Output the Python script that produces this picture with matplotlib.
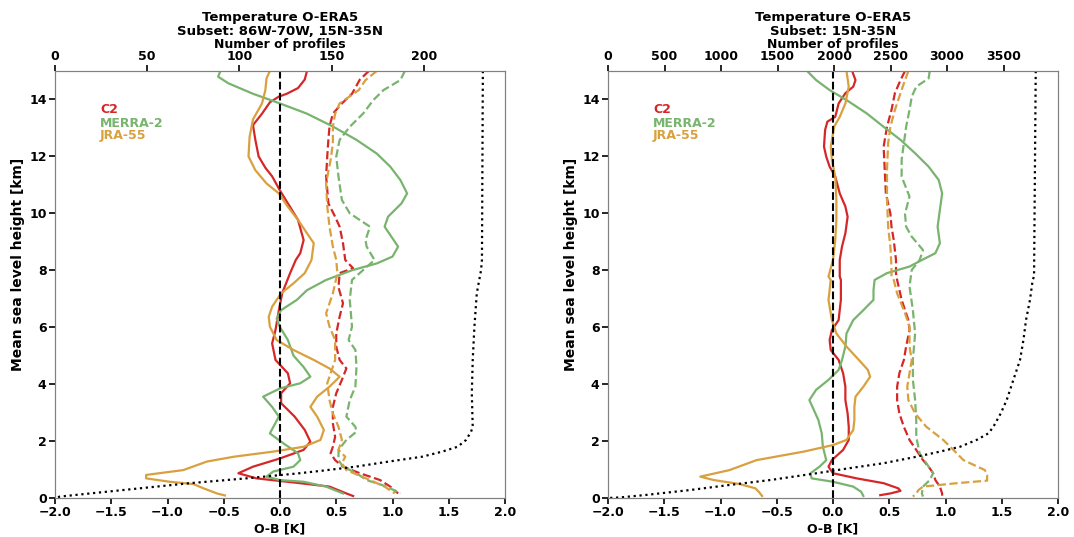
import numpy as np
import matplotlib
matplotlib.use('Agg')
import matplotlib.pyplot as plt

# colours
red = '#d62728'
green = '#78b46e'
orange = '#d9a03f'

# ---------------- left panel: 86W-70W, 15N-35N ----------------
c2_L_h = [15.0, 14.7, 14.4, 14.2, 14.1, 13.9, 13.5, 13.1, 12.6, 12.0, 11.6, 11.3, 10.8, 10.35,
          9.77, 9.06, 8.6, 8.36, 7.9, 7.2, 6.6, 5.9, 5.43, 4.85, 4.38, 4.03, 3.68, 3.33, 2.86,
          2.39, 1.98, 1.69, 1.39, 1.1, 0.87, 0.69, 0.52, 0.4, 0.16, 0.07]
c2_L_ob = [0.24, 0.22, 0.16, 0.06, -0.01, -0.09, -0.16, -0.24, -0.22, -0.19, -0.13, -0.07, 0.0, 0.07,
           0.16, 0.21, 0.18, 0.14, 0.09, 0.02, -0.01, -0.04, -0.07, -0.04, 0.07, 0.09, 0.01, 0.01, 0.13,
           0.22, 0.27, 0.21, 0.0, -0.24, -0.37, -0.21, 0.18, 0.44, 0.59, 0.65]
c2_L_sd_h = [15.0, 14.7, 14.2, 13.86, 13.5, 13.05, 12.58, 12.0, 11.3, 10.35, 9.88, 9.53, 8.95, 8.36,
             8.07, 7.9, 7.4, 6.84, 6.37, 5.78, 5.32, 4.85, 4.55, 4.15, 3.68, 3.2, 2.62, 2.15, 1.8,
             1.57, 1.33, 1.1, 0.87, 0.63, 0.4, 0.16]
c2_L_sd = [0.79, 0.71, 0.64, 0.55, 0.47, 0.44, 0.43, 0.42, 0.41, 0.43, 0.49, 0.53, 0.56, 0.58,
           0.65, 0.53, 0.52, 0.56, 0.53, 0.5, 0.5, 0.53, 0.59, 0.55, 0.5, 0.47, 0.47, 0.49, 0.47,
           0.45, 0.49, 0.56, 0.71, 0.89, 0.98, 1.05]

merra_L_h = [15.0, 14.8, 14.57, 14.2, 13.86, 13.5, 13.05, 12.58, 12.1, 11.64, 11.17, 10.7, 10.35,
             9.88, 9.53, 9.18, 8.83, 8.48, 8.24, 8.0, 7.66, 7.3, 6.96, 6.6, 6.3, 6.0, 5.55, 5.0,
             4.6, 4.26, 4.03, 3.85, 3.56, 3.2, 2.86, 2.27, 1.92, 1.57, 1.33, 1.1, 0.93, 0.75, 0.63,
             0.57, 0.4, 0.16]
merra_L_ob = [-0.53, -0.55, -0.46, -0.24, 0.0, 0.24, 0.47, 0.68, 0.86, 0.98, 1.07, 1.13, 1.08,
              0.96, 0.93, 0.99, 1.05, 1.0, 0.86, 0.64, 0.41, 0.24, 0.15, 0.01, -0.03, 0.0, 0.07, 0.12,
              0.21, 0.27, 0.18, 0.0, -0.15, -0.07, -0.01, -0.09, 0.03, 0.16, 0.18, 0.12, -0.06, -0.12, 0.0,
              0.21, 0.41, 0.56]
merra_L_sd_h = [15.0, 14.68, 14.33, 13.98, 13.51, 13.04, 12.58, 11.99, 11.29, 10.47, 10.0, 9.53, 9.06,
                8.83, 8.36, 8.01, 7.66, 6.96, 6.02, 5.55, 5.2, 4.62, 3.91, 3.44, 2.86, 2.5, 2.33, 2.04,
                1.69, 1.33, 1.1, 0.87, 0.63, 0.4, 0.16]
merra_L_sd = [1.11, 1.07, 0.92, 0.83, 0.74, 0.62, 0.53, 0.5, 0.52, 0.55, 0.62, 0.8, 0.76,
              0.77, 0.84, 0.74, 0.64, 0.62, 0.64, 0.61, 0.67, 0.68, 0.67, 0.62, 0.59, 0.67, 0.68, 0.59,
              0.52, 0.52, 0.56, 0.68, 0.77, 0.95, 1.07]

jra_L_h = [15.0, 14.74, 14.33, 13.86, 13.3, 12.69, 12.0, 11.52, 11.05, 10.7, 10.23, 9.77, 9.3, 8.95,
           8.36, 7.9, 7.54, 7.19, 6.72, 6.37, 6.02, 5.55, 5.2, 4.85, 4.55, 4.26, 3.91, 3.56, 3.2,
           2.86, 2.39, 2.04, 1.8, 1.63, 1.45, 1.28, 0.98, 0.81, 0.69, 0.57, 0.49, 0.34, 0.16, 0.09]
jra_L_ob = [-0.09, -0.12, -0.13, -0.16, -0.24, -0.27, -0.28, -0.22, -0.12, -0.01, 0.07, 0.16, 0.24, 0.3,
            0.28, 0.22, 0.12, 0.01, -0.07, -0.1, -0.09, -0.03, 0.12, 0.3, 0.44, 0.53, 0.44, 0.33, 0.27,
            0.33, 0.39, 0.36, 0.21, -0.06, -0.41, -0.65, -0.86, -1.19, -1.19, -0.98, -0.77, -0.68, -0.56, -0.49]
jra_L_sd_h = [15.0, 14.68, 14.33, 13.86, 13.5, 13.04, 12.46, 11.88, 11.06, 10.24, 9.53, 8.83, 8.36,
              7.89, 7.19, 6.49, 6.02, 5.55, 4.85, 4.5, 4.03, 3.44, 2.97, 2.5, 2.04, 1.69, 1.45, 1.22,
              0.98, 0.63, 0.4, 0.16]
jra_L_sd = [0.86, 0.76, 0.7, 0.53, 0.49, 0.47, 0.47, 0.45, 0.41, 0.42, 0.44, 0.47, 0.5,
            0.51, 0.47, 0.41, 0.44, 0.49, 0.49, 0.46, 0.42, 0.44, 0.47, 0.52, 0.55, 0.52, 0.58, 0.55,
            0.59, 0.8, 0.93, 1.02]

n_L_h = [15.0, 8.36, 8.0, 7.19, 6.0, 4.85, 3.68, 2.5, 2.33, 2.04, 1.8, 1.63, 1.45, 1.28, 1.1, 0.96,
         0.87, 0.69, 0.52, 0.34, 0.16, 0.05, 0.0]
n_L = [232, 231.5, 231, 228.7, 227.4, 226.5, 226, 226.5, 225.6, 222.9, 218.3, 210, 199, 181, 163, 145,
       132.6, 103.7, 73, 46, 19, 2.7, 0]

# ---------------- right panel: 15N-35N ----------------
c2_R_h = [15.0, 14.68, 14.45, 14.22, 13.86, 13.39, 13.22, 12.93, 12.34, 11.99, 11.64, 11.29, 10.7,
          10.24, 9.88, 9.3, 8.83, 8.36, 7.78, 7.66, 6.96, 6.25, 5.9, 5.55, 5.2, 4.85, 4.38, 3.91,
          3.44, 2.97, 2.5, 2.04, 1.69, 1.33, 1.1, 0.87, 0.69, 0.52, 0.34, 0.25, 0.16, 0.1]
c2_R_ob = [0.17, 0.2, 0.18, 0.11, 0.05, 0.02, -0.05, -0.07, -0.08, -0.06, -0.03, 0.02, 0.06,
           0.11, 0.13, 0.11, 0.08, 0.06, 0.06, 0.07, 0.07, 0.05, -0.01, -0.03, -0.02, 0.05, 0.09, 0.11,
           0.11, 0.13, 0.14, 0.14, 0.09, -0.01, -0.04, 0.0, 0.21, 0.45, 0.58, 0.6, 0.51, 0.42]
c2_R_sd_h = [15.0, 14.68, 14.22, 13.63, 13.04, 12.34, 11.52, 10.7, 9.99, 9.53, 9.06, 8.36, 7.89,
             7.66, 6.96, 6.25, 5.9, 5.32, 4.85, 4.38, 3.91, 3.44, 2.97, 2.5, 2.04, 1.57, 1.33, 1.1,
             0.87, 0.63, 0.4, 0.16, 0.05]
c2_R_sd = [0.64, 0.6, 0.55, 0.52, 0.48, 0.45, 0.46, 0.47, 0.51, 0.52, 0.54, 0.56, 0.56,
           0.57, 0.61, 0.67, 0.68, 0.65, 0.63, 0.59, 0.57, 0.57, 0.59, 0.63, 0.68, 0.76, 0.8, 0.85,
           0.89, 0.91, 0.95, 0.97, 0.97]

merra_R_h = [15.0, 14.68, 14.33, 13.98, 13.51, 13.04, 12.58, 12.11, 11.64, 11.17, 10.7, 10.12, 9.53,
             8.95, 8.6, 8.36, 8.13, 7.9, 7.66, 7.3, 6.96, 6.6, 6.25, 5.78, 5.32, 4.85, 4.5, 4.15, 3.8,
             3.44, 3.09, 2.74, 2.27, 1.8, 1.33, 1.1, 0.87, 0.69, 0.57, 0.4, 0.22, 0.07]
merra_R_ob = [-0.23, -0.15, -0.03, 0.12, 0.3, 0.45, 0.6, 0.73, 0.85, 0.94, 0.97, 0.95, 0.93,
              0.95, 0.91, 0.79, 0.68, 0.48, 0.37, 0.36, 0.36, 0.27, 0.18, 0.12, 0.11, 0.08, 0.05, -0.04, -0.15,
              -0.21, -0.17, -0.13, -0.1, -0.09, -0.06, -0.12, -0.2, -0.19, 0.0, 0.18, 0.25, 0.27]
merra_R_sd_h = [15.0, 14.74, 14.45, 14.1, 13.63, 13.04, 12.46, 11.88, 11.29, 10.59, 9.99, 9.53, 9.18,
                8.71, 8.36, 8.01, 7.43, 6.6, 5.78, 4.85, 4.15, 3.44, 2.74, 2.15, 1.57, 1.1, 0.87, 0.63,
                0.4, 0.16, 0.05]
merra_R_sd = [0.86, 0.85, 0.74, 0.7, 0.68, 0.65, 0.63, 0.61, 0.61, 0.68, 0.64, 0.65, 0.7,
              0.8, 0.77, 0.7, 0.68, 0.71, 0.73, 0.71, 0.71, 0.73, 0.74, 0.74, 0.77, 0.85, 0.89, 0.86,
              0.8, 0.79, 0.8]

jra_R_h = [15.0, 14.45, 13.86, 13.39, 13.04, 12.34, 11.88, 11.29, 10.47, 9.77, 9.06, 8.36, 7.78,
           7.66, 6.96, 6.25, 5.78, 5.32, 4.85, 4.5, 4.26, 3.91, 3.56, 3.2, 2.74, 2.39, 2.04, 1.86,
           1.63, 1.33, 0.98, 0.75, 0.63, 0.49, 0.34, 0.22, 0.07]
jra_R_ob = [0.12, 0.14, 0.11, 0.06, 0.01, -0.02, -0.01, 0.02, 0.03, 0.03, 0.02, 0.0, -0.04,
            -0.02, -0.04, -0.01, 0.03, 0.12, 0.23, 0.31, 0.33, 0.27, 0.2, 0.19, 0.19, 0.18, 0.12, 0.0,
            -0.26, -0.68, -0.92, -1.18, -1.06, -0.83, -0.69, -0.66, -0.63]
jra_R_sd_h = [15.0, 14.68, 14.22, 13.63, 13.04, 12.46, 11.52, 10.47, 9.53, 8.83, 8.13, 7.78,
              7.66, 7.19, 6.49, 6.02, 5.32, 4.85, 4.38, 3.91, 3.44, 2.97, 2.5, 2.04, 1.69, 1.33,
              0.98, 0.81, 0.61, 0.52, 0.4, 0.28, 0.16, 0.05]
jra_R_sd = [0.67, 0.64, 0.6, 0.55, 0.51, 0.49, 0.48, 0.48, 0.49, 0.51, 0.52, 0.52,
            0.54, 0.57, 0.64, 0.68, 0.68, 0.7, 0.68, 0.66, 0.67, 0.73, 0.83, 0.98, 1.07, 1.16,
            1.35, 1.37, 1.37, 1.1, 0.8, 0.76, 0.74, 0.71]

n_R_h = [15.0, 7.78, 7.66, 6.96, 6.25, 5.55, 4.85, 4.15, 3.44, 2.97, 2.5, 2.27, 2.04, 1.8, 1.63,
         1.45, 1.22, 1.05, 0.87, 0.63, 0.46, 0.28, 0.11, 0.02, 0.0]
n_R = [3785, 3770, 3758, 3734, 3699, 3676, 3646, 3587, 3528, 3475, 3410, 3366, 3262, 3115, 2938,
       2731, 2436, 2141, 1846, 1434, 1080, 726, 342, 106, 3]

panels = [
    dict(title='Temperature O-ERA5\nSubset: 86W-70W, 15N-35N',
         c2=(c2_L_h, c2_L_ob, c2_L_sd_h, c2_L_sd),
         merra=(merra_L_h, merra_L_ob, merra_L_sd_h, merra_L_sd),
         jra=(jra_L_h, jra_L_ob, jra_L_sd_h, jra_L_sd),
         n=(n_L_h, n_L), nmax=244, nticks=np.arange(0, 201, 50)),
    dict(title='Temperature O-ERA5\nSubset: 15N-35N',
         c2=(c2_R_h, c2_R_ob, c2_R_sd_h, c2_R_sd),
         merra=(merra_R_h, merra_R_ob, merra_R_sd_h, merra_R_sd),
         jra=(jra_R_h, jra_R_ob, jra_R_sd_h, jra_R_sd),
         n=(n_R_h, n_R), nmax=3982, nticks=np.arange(0, 3501, 500)),
]

plt.rcParams['font.family'] = 'DejaVu Sans'
plt.rcParams['font.weight'] = 'bold'
plt.rcParams['axes.labelweight'] = 'bold'

fig = plt.figure(figsize=(10.74, 5.37), dpi=100)
lefts = [55 / 1074, 608 / 1074]
w = 450 / 1074
b = 1 - 498 / 537
h = 427 / 537

for i, p in enumerate(panels):
    ax = fig.add_axes([lefts[i], b, w, h])
    for key, col in [('c2', red), ('merra', green), ('jra', orange)]:
        hh, ob, sh, sd = p[key]
        ax.plot(ob, hh, color=col, lw=1.6)
        ax.plot(sd, sh, color=col, lw=1.6, ls='--')
    ax.plot([0, 0], [0, 15], color='k', lw=1.5, ls='--')
    ax.set_xlim(-2, 2)
    ax.set_ylim(0, 15)
    ax.set_xticks(np.arange(-2, 2.01, 0.5))
    ax.set_yticks(np.arange(0, 15, 2))
    ax.set_xlabel('O-B [K]', fontsize=9, labelpad=2)
    ax.set_ylabel('Mean sea level height [km]', fontsize=10)
    ax.yaxis.set_label_coords(-0.066, 0.546)
    ax.tick_params(labelsize=9, width=1.2, length=4, pad=2)
    for s in ax.spines.values():
        s.set_color('grey')

    ax.text(0.1, 0.909, 'C2', color=red, fontsize=9, fontweight='bold', transform=ax.transAxes, va='center')
    ax.text(0.1, 0.878, 'MERRA-2', color=green, fontsize=9, fontweight='bold', transform=ax.transAxes, va='center')
    ax.text(0.1, 0.848, 'JRA-55', color=orange, fontsize=9, fontweight='bold', transform=ax.transAxes, va='center')

    ax2 = ax.twiny()
    nh, nv = p['n']
    ax2.plot(nv, nh, color='k', lw=1.6, ls=':')
    ax2.set_xlim(0, p['nmax'])
    ax2.set_xticks(p['nticks'])
    ax2.set_xlabel('Number of profiles', fontsize=9, labelpad=1)
    ax2.tick_params(labelsize=9, width=1.2, length=4, pad=2)
    for s in ax2.spines.values():
        s.set_color('grey')

    ax.text(0.5, 1.078, p['title'], fontsize=9.5, fontweight='bold', ha='center', va='bottom',
            linespacing=1.05, transform=ax.transAxes)

plt.savefig('out.png', dpi=100)
